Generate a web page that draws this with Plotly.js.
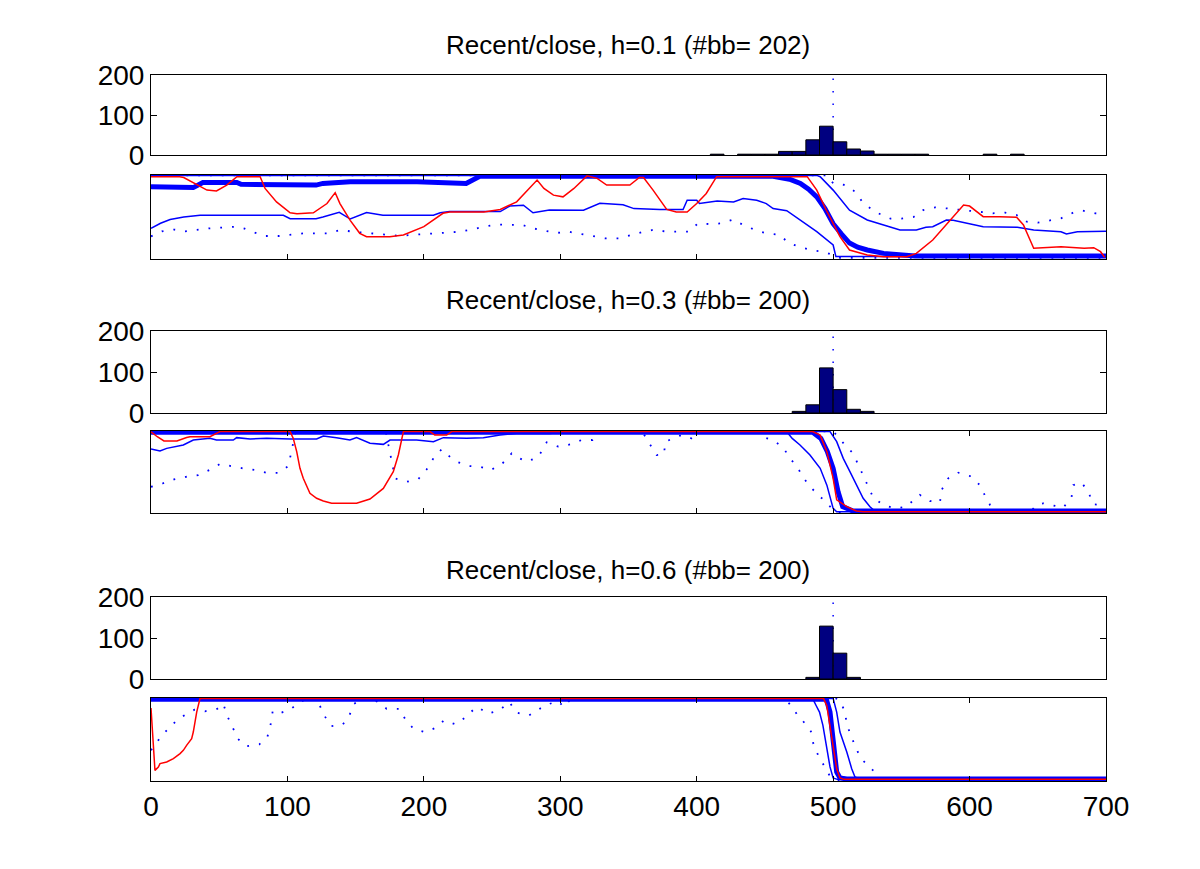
<!DOCTYPE html>
<html>
<head>
<meta charset="utf-8">
<script src="https://cdn.plot.ly/plotly-3.0.1.min.js"></script>
<style>html,body{margin:0;padding:0;background:#fff}#chart{width:1200px;height:869px}</style>
</head>
<body>
<div id="chart"></div>
<script>
// ---------- DATA ----------
const titles = ["Recent/close, h=0.1 (#bb= 202)", "Recent/close, h=0.3 (#bb= 200)", "Recent/close, h=0.6 (#bb= 200)"];
const xTicks = [0, 100, 200, 300, 400, 500, 600, 700];
const histTicks = [0, 100, 200];
const changePoint = 500;
const binWidth = 10;

const h1Centers = [415, 435, 445, 455, 465, 475, 485, 495, 505, 515, 525, 535, 545, 555, 565, 615, 635];
const h1Counts  = [2, 2, 2, 2, 9, 9, 38, 72, 33, 15, 10, 2, 2, 2, 2, 2, 2];
const h2Centers = [475, 485, 495, 505, 515, 525];
const h2Counts  = [4, 20, 110, 57, 9, 4];
const h3Centers = [485, 495, 505, 515];
const h3Counts  = [4, 129, 63, 4];

// panel 1 (h=0.1) : [x, value]
const p1Mean = [[0,0.86],[14,0.86],[31,0.85],[38,0.91],[63,0.91],[66,0.89],[80,0.89],[83,0.88],[121,0.88],[126,0.90],[146,0.92],[195,0.92],[231,0.90],[241,0.985],[456,0.985],[468,0.95],[476,0.90],[482,0.83],[488,0.74],[494,0.60],[500,0.42],[506,0.30],[512,0.19],[518,0.14],[525,0.107],[537,0.067],[549,0.048],[560,0.035],[700,0.035]];
const p1Lo = [[0,0.365],[7,0.425],[14,0.47],[24,0.50],[36,0.52],[97,0.52],[102,0.48],[121,0.48],[126,0.50],[138,0.555],[146,0.476],[158,0.552],[170,0.52],[207,0.52],[212,0.55],[219,0.564],[256,0.564],[263,0.63],[273,0.64],[280,0.55],[292,0.583],[317,0.58],[329,0.663],[346,0.645],[354,0.60],[373,0.59],[390,0.59],[393,0.70],[400,0.70],[402,0.66],[415,0.69],[427,0.68],[434,0.72],[444,0.70],[451,0.66],[456,0.60],[466,0.575],[476,0.464],[488,0.325],[500,0.167],[502,0.03],[700,0.03]];
const p1Hi = [[0,0.995],[488,0.995],[490.5,0.98],[500,0.82],[512,0.58],[525,0.464],[537,0.405],[549,0.345],[561,0.345],[568,0.377],[573,0.385],[583,0.464],[588,0.46],[598,0.425],[610,0.385],[635,0.377],[647,0.345],[667,0.325],[671,0.297],[679,0.325],[700,0.33]];
const p1DotLo = [[0,0.27],[8,0.33],[17,0.35],[25,0.33],[43,0.365],[62,0.385],[68,0.365],[75,0.32],[84,0.274],[94,0.274],[112,0.306],[130,0.306],[139,0.345],[148,0.325],[183,0.274],[193,0.29],[210,0.306],[226,0.325],[235,0.35],[244,0.385],[253,0.41],[263,0.405],[272,0.405],[280,0.365],[297,0.31],[306,0.325],[324,0.274],[333,0.246],[343,0.246],[352,0.286],[361,0.325],[369,0.35],[378,0.325],[394,0.325],[401,0.425],[410,0.415],[418,0.425],[427,0.47],[434,0.405],[443,0.345],[451,0.306],[461,0.286],[467,0.195],[476,0.14],[486,0.10],[493,0.087],[500,0.05],[505,0.015],[700,0.015]];
const p1DotHi = [[0,0.995],[496,0.995],[500,0.90],[509,0.88],[517,0.79],[522,0.663],[532,0.552],[542,0.48],[550,0.48],[559,0.50],[566,0.583],[575,0.615],[583,0.603],[593,0.583],[608,0.56],[617,0.544],[626,0.552],[634.5,0.524],[642,0.444],[650,0.432],[659,0.464],[667,0.484],[676,0.552],[683,0.575],[692,0.544],[700,0.55]];
const p1Red = [[0,0.98],[21,0.98],[24,0.97],[41,0.82],[48,0.81],[55.5,0.88],[63,0.98],[80,0.98],[83.6,0.84],[92,0.68],[102,0.55],[107,0.54],[119,0.55],[129,0.66],[135,0.79],[138.5,0.66],[146,0.46],[153,0.306],[158,0.266],[175,0.266],[185,0.286],[200,0.385],[214,0.544],[219,0.56],[244,0.56],[256,0.59],[268,0.68],[278,0.86],[283,0.94],[288,0.84],[295,0.76],[302,0.74],[310,0.84],[319.6,0.99],[327,0.96],[334,0.88],[351,0.88],[358,0.97],[361,0.97],[368,0.82],[378,0.59],[385,0.56],[393,0.56],[400,0.66],[407,0.78],[414.6,0.98],[481,0.98],[488,0.82],[495,0.58],[505,0.266],[512,0.107],[525,0.048],[537,0.028],[554,0.028],[561,0.067],[573,0.226],[586,0.464],[595.6,0.643],[600,0.63],[610,0.504],[622,0.504],[634.5,0.496],[639.5,0.405],[647,0.127],[667,0.147],[684,0.127],[691,0.135],[696,0.087],[699,0.02]];

// panel 2 (h=0.3)
const p2Mean = [[0,0.985],[485,0.985],[491,0.91],[495.7,0.75],[500,0.545],[503.6,0.26],[507,0.077],[514.7,0.025],[700,0.025]];
const p2Lo = [[0,0.78],[6.6,0.756],[11.5,0.788],[23.7,0.829],[31,0.89],[43.2,0.911],[48,0.89],[60.3,0.89],[62.8,0.919],[72.6,0.902],[84.8,0.911],[101.9,0.902],[121.4,0.902],[126.3,0.939],[136,0.919],[145.8,0.89],[150.7,0.919],[160.5,0.85],[170.3,0.837],[175.2,0.89],[194.7,0.89],[207,0.87],[214.3,0.919],[231.4,0.911],[243.6,0.919],[255.8,0.951],[268,0.97],[292.5,0.97],[304.7,0.992],[466,0.992],[470,0.91],[475.7,0.83],[483,0.707],[490.5,0.545],[495.4,0.34],[500,0.057],[502.6,0.015],[700,0.015]];
const p2Hi = [[0,0.995],[497.6,0.995],[502.6,0.87],[507.4,0.666],[512.3,0.504],[517,0.34],[522,0.18],[527,0.077],[530.5,0.024],[700,0.02]];
const p2DotLo = [[0,0.32],[8.5,0.36],[16.9,0.41],[25.4,0.44],[34.7,0.463],[42.8,0.524],[50.6,0.598],[57.9,0.573],[67.2,0.545],[76.2,0.524],[84.8,0.49],[93.3,0.49],[100.7,0.573],[106,0.995],[172,0.995],[179,0.42],[187.4,0.38],[196,0.415],[202,0.53],[207,0.667],[213,0.776],[216.7,0.715],[224,0.626],[232.6,0.573],[240.7,0.565],[249,0.524],[257,0.593],[264.4,0.728],[270,0.667],[275.4,0.626],[283.4,0.679],[287,0.768],[290,0.862],[298.6,0.809],[307.6,0.837],[315.7,0.89],[323.7,0.89],[329,0.995],[360,0.995],[365.7,0.837],[370.6,0.707],[376,0.715],[377,0.87],[387.7,0.943],[392.6,0.943],[396,0.91],[400,0.995],[445,0.995],[447.6,0.93],[456,0.89],[463.5,0.797],[468,0.675],[474,0.553],[477,0.463],[482,0.34],[489,0.22],[494,0.146],[499,0.057],[503,0.01],[700,0.01]];
const p2DotHi = [[0,0.995],[500,0.995],[503.6,0.93],[509.7,0.809],[514.6,0.728],[518.3,0.593],[522,0.463],[525.8,0.32],[529.4,0.187],[536.8,0.098],[545.3,0.057],[553.9,0.077],[556.3,0.118],[563.6,0.22],[571,0.146],[578.3,0.13],[579.5,0.28],[584.4,0.423],[591.7,0.492],[600.3,0.451],[607.6,0.34],[611.3,0.211],[615,0.098],[620,0.02],[645,0.02],[649,0.098],[654,0.118],[668.6,0.065],[674.7,0.187],[676,0.34],[682,0.373],[687,0.26],[690.7,0.106],[696.8,0.098],[700,0.08]];
const p2Red = [[0,0.99],[4.6,0.93],[9.5,0.878],[19,0.878],[26.1,0.92],[28.6,0.93],[43.2,0.93],[48,0.97],[50.6,0.993],[102,0.993],[104.3,0.91],[106.8,0.748],[109.2,0.545],[111.6,0.423],[116.5,0.24],[121.4,0.179],[126.3,0.146],[132.4,0.118],[150.7,0.118],[160.5,0.171],[170.3,0.3],[177.6,0.504],[181.3,0.707],[185,0.993],[204.5,0.993],[208,0.95],[216.7,0.95],[220.4,0.993],[485,0.993],[490.5,0.95],[495.4,0.748],[500,0.423],[502.6,0.16],[510,0.077],[517,0.024],[522,0.015],[700,0.015]];

// panel 3 (h=0.6)
const p3Mean = [[0,0.985],[495,0.985],[497.7,0.83],[500.2,0.47],[502.6,0.108],[505,0.036],[510,0.025],[700,0.025]];
const p3Lo = [[0,0.993],[485,0.993],[487.5,0.91],[490,0.83],[492.5,0.67],[495,0.41],[497.7,0.17],[500,0.036],[503,0.02],[700,0.02]];
const p3Hi = [[0,0.995],[500,0.995],[502.6,0.83],[505,0.59],[510,0.35],[513.6,0.148],[516,0.048],[520,0.02],[700,0.02]];
const p3DotLo = [[0,0.37],[8,0.55],[20,0.75],[32,0.86],[39.6,0.84],[48.6,0.87],[53,0.93],[56,0.78],[60,0.64],[63.5,0.51],[70,0.418],[79.4,0.442],[85.3,0.53],[87.7,0.683],[89.2,0.84],[93.3,0.811],[101.9,0.86],[106.8,0.92],[114,0.995],[121.4,0.995],[123.4,0.92],[127,0.79],[132,0.66],[140.5,0.679],[145.4,0.79],[148.8,0.93],[155.6,0.995],[161,0.995],[166.2,0.952],[172.7,0.87],[182,0.87],[186.2,0.75],[192.3,0.63],[200.8,0.59],[208.4,0.638],[214.8,0.73],[223.1,0.683],[230.6,0.767],[237,0.87],[239.4,0.891],[246.8,0.811],[255.3,0.851],[262.7,0.952],[268,0.823],[277,0.79],[283.4,0.851],[290,0.92],[298.6,0.96],[302.7,0.891],[308,0.995],[465,0.995],[468.4,0.92],[473.2,0.811],[478,0.72],[483.7,0.598],[485.5,0.45],[489,0.31],[493.5,0.18],[498,0.048],[502,0.01],[700,0.01]];
const p3DotHi = [[0,0.995],[502,0.995],[505,0.97],[508.7,0.831],[510,0.679],[513.6,0.538],[516.8,0.39],[521,0.26],[525.8,0.18],[532,0.088],[536,0.02],[700,0.02]];
const p3Red = [[0,0.88],[2.9,0.128],[5.4,0.169],[6.6,0.21],[11.5,0.229],[16.4,0.27],[21.3,0.33],[23.7,0.37],[26.1,0.43],[29.8,0.51],[31,0.59],[33.5,0.83],[35.9,0.993],[493,0.993],[495.3,0.91],[497.7,0.67],[500.2,0.39],[502.6,0.148],[505,0.036],[508,0.02],[700,0.02]];

// ---------- STYLE / LAYOUT ----------
const FONT = "Liberation Sans, Arial, Helvetica, sans-serif";
const BLUE = "#0000ff", RED = "#ff0000", NAVY = "#000080";
const W = 1200, H = 869;
const xDom = [151 / W, 1106 / W];
// pixel top/bottom of each axes box (hist1, lines1, hist2, lines2, hist3, lines3)
const boxes = [[75,155],[175,259],[331,413],[431,513],[597,679],[698,781]];
const titleY = [45, 300, 570];

const hists = [[h1Centers,h1Counts],[h2Centers,h2Counts],[h3Centers,h3Counts]];
const panels = [
  [p1Mean,p1Lo,p1Hi,p1DotLo,p1DotHi,p1Red],
  [p2Mean,p2Lo,p2Hi,p2DotLo,p2DotHi,p2Red],
  [p3Mean,p3Lo,p3Hi,p3DotLo,p3DotHi,p3Red]
];
const xs = a => a.map(p => p[0]);
const ys = a => a.map(p => p[1]);

const data = [];
const layout = {
  width: W, height: H, paper_bgcolor: "#fff", plot_bgcolor: "#fff",
  margin: {l:0, r:0, t:0, b:0}, showlegend: false,
  font: {family: FONT, color: "#000"},
  annotations: [], shapes: []
};

for (let k = 0; k < 3; k++) {
  const hi = 2*k + 1, li = 2*k + 2;
  const hx = "x" + hi, hy = "y" + hi, lx = "x" + li, ly = "y" + li;
  // histogram
  data.push({type: "bar", x: hists[k][0], y: hists[k][1], width: binWidth, xaxis: hx, yaxis: hy,
    marker: {color: NAVY, line: {color: "#000", width: 1}}, hoverinfo: "skip"});
  layout.shapes.push({type: "line", xref: hx, yref: hy + " domain", x0: changePoint, x1: changePoint, y0: 0, y1: 1,
    layer: "below", line: {color: BLUE, width: 1.5, dash: "1.5px,11px"}});
  // lines panel
  const [mean, lo, hiB, dlo, dhi, red] = panels[k];
  data.push({type: "scatter", mode: "lines", x: xs(mean), y: ys(mean), xaxis: lx, yaxis: ly, line: {color: BLUE, width: 5}, hoverinfo: "skip"});
  [lo, hiB].forEach(s => data.push({type: "scatter", mode: "lines", x: xs(s), y: ys(s), xaxis: lx, yaxis: ly, line: {color: BLUE, width: 1.5}, hoverinfo: "skip"}));
  [dlo, dhi].forEach(s => data.push({type: "scatter", mode: "lines", x: xs(s), y: ys(s), xaxis: lx, yaxis: ly, line: {color: BLUE, width: 1.8, dash: "1.8px,10px"}, hoverinfo: "skip"}));
  data.push({type: "scatter", mode: "lines", x: xs(red), y: ys(red), xaxis: lx, yaxis: ly, line: {color: RED, width: 1.5}, hoverinfo: "skip"});

  const hb = boxes[2*k], lb = boxes[2*k+1];
  const common = {showgrid: false, zeroline: false, showline: true, linecolor: "#000", linewidth: 1, mirror: "ticks"};
  layout["xaxis" + hi] = Object.assign({}, common, {domain: xDom, range: [0, 700], anchor: hy, ticks: "", showticklabels: false, fixedrange: true});
  layout["yaxis" + hi] = Object.assign({}, common, {domain: [1 - hb[1]/H, 1 - hb[0]/H], range: [0, 200], anchor: hx,
    tickvals: histTicks, ticktext: histTicks.map(String), ticks: "inside", ticklen: 6, tickcolor: "#000",
    tickfont: {family: FONT, size: 28, color: "#000"}, fixedrange: true});
  layout["xaxis" + li] = Object.assign({}, common, {domain: xDom, range: [0, 700], anchor: ly,
    tickvals: xTicks, ticktext: xTicks.map(String), ticks: "inside", ticklen: 5, tickcolor: "#000",
    showticklabels: k === 2, tickfont: {family: FONT, size: 28, color: "#000"}, fixedrange: true});
  layout["yaxis" + li] = Object.assign({}, common, {domain: [1 - lb[1]/H, 1 - lb[0]/H], range: [0, 1], anchor: lx,
    ticks: "", showticklabels: false, fixedrange: true});

  layout.annotations.push({text: titles[k], xref: "paper", yref: "paper", x: (xDom[0] + xDom[1]) / 2, y: 1 - titleY[k]/H,
    xanchor: "center", yanchor: "middle", showarrow: false, font: {family: FONT, size: 26, color: "#000"}});
}

Plotly.newPlot("chart", data, layout, {displayModeBar: false, staticPlot: true});
</script>
</body>
</html>
